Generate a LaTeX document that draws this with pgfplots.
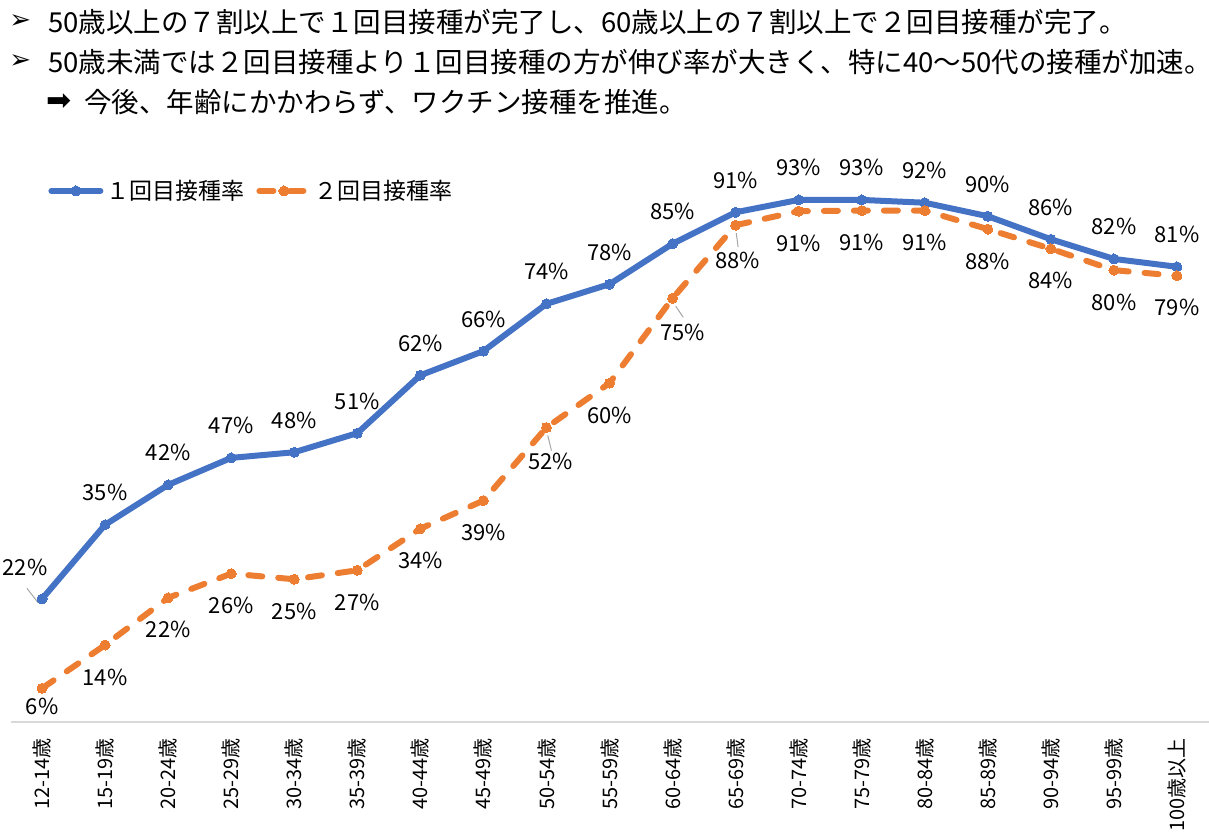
\documentclass[border=0pt]{standalone}
\usepackage{pgfplots}
\usepackage{pgfplotstable}
\pgfplotsset{compat=1.18}
\usepackage{fontspec}
\setmainfont{Noto Sans CJK JP}
\newfontfamily\sym{DejaVu Sans}
\definecolor{cblue}{HTML}{4472C4}
\definecolor{corange}{HTML}{ED7D31}
\definecolor{lgray}{HTML}{D9D9D9}

\pgfplotstableread{
x y
0 21.9
1 35.1
2 42.2
3 47.0
4 48.0
5 51.4
6 61.7
7 66.0
8 74.4
9 77.9
10 85.1
11 90.7
12 92.9
13 92.9
14 92.4
15 90.0
16 85.9
17 82.4
18 81.0
}\first

\pgfplotstableread{
x y
0 6.0
1 13.7
2 22.1
3 26.4
4 25.4
5 27.0
6 34.4
7 39.4
8 52.4
9 60.3
10 75.4
11 88.4
12 90.9
13 91.0
14 91.0
15 87.7
16 84.2
17 80.4
18 79.4
}\second

\begin{document}
\begin{tikzpicture}
\useasboundingbox (0,0) rectangle (604.5pt,-418.5pt);
% header
\node[anchor=west,inner sep=0pt,font=\sym\fontsize{13pt}{15pt}\selectfont] at (9*0.5pt,-22*0.5pt) {➢};
\node[anchor=west,inner sep=0pt,font=\fontsize{13.75pt}{16pt}\selectfont] at (48*0.5pt,-22*0.5pt) {50歳以上の７割以上で１回目接種が完了し、60歳以上の７割以上で２回目接種が完了。};
\node[anchor=west,inner sep=0pt,font=\sym\fontsize{13pt}{15pt}\selectfont] at (9*0.5pt,-62*0.5pt) {➢};
\node[anchor=west,inner sep=0pt,font=\fontsize{13.75pt}{16pt}\selectfont] at (48*0.5pt,-62*0.5pt) {50歳未満では２回目接種より１回目接種の方が伸び率が大きく、特に40～50代の接種が加速。};
\node[anchor=west,inner sep=0pt,font=\sym\fontsize{15pt}{17pt}\selectfont] at (46*0.5pt,-102*0.5pt) {➡};
\node[anchor=west,inner sep=0pt,font=\fontsize{13.75pt}{16pt}\selectfont] at (84*0.5pt,-102*0.5pt) {今後、年齢にかかわらず、ワクチン接種を推進。};

\begin{axis}[
  at={(10.5*0.5pt,-722*0.5pt)}, anchor=south west,
  scale only axis, width=599pt, height=281pt,
  xmin=-0.5, xmax=18.5, ymin=0, ymax=100,
  clip=false,
  axis y line=none,
  axis x line*=bottom,
  x axis line style={lgray, line width=0.8pt, -},
  xtick={0,...,18},
  xticklabels={12-14歳,15-19歳,20-24歳,25-29歳,30-34歳,35-39歳,40-44歳,45-49歳,50-54歳,55-59歳,60-64歳,65-69歳,70-74歳,75-79歳,80-84歳,85-89歳,90-94歳,95-99歳,100歳以上},
  xtick style={draw=none},
  major tick length=0pt,
  xticklabel style={rotate=90, anchor=east, inner sep=0pt, font=\fontsize{10pt}{12pt}\selectfont},
  xticklabel shift=8pt,
  /pgf/number format/assume math mode=true,
  legend style={at={(0.0313,0.945)}, anchor=west, draw=none, fill=none, inner sep=0pt,
    legend columns=2, font=\fontsize{11.5pt}{14pt}\selectfont,
    /tikz/every even column/.append style={column sep=6pt},
    nodes={inner sep=0pt}},
  legend image code/.code={\draw[mark repeat=2,mark phase=2,#1] plot coordinates {(0pt,0pt) (12.25pt,0pt) (24.5pt,0pt)};},
]
\addlegendimage{cblue, line width=3pt, line cap=round, mark=*, mark size=2.5pt, mark options={solid, line width=0pt}}
\addlegendentry{\hspace{1.5pt}１回目接種率}
\addlegendimage{corange, line width=3pt, line cap=round, dash pattern=on 7pt off 8pt, mark=*, mark size=2.5pt, mark options={solid, line width=0pt}}
\addlegendentry{\hspace{1.5pt}２回目接種率}
\addplot[forget plot, cblue, line width=3pt, line cap=round, line join=round, mark=*, mark size=2.5pt, mark options={solid, line width=0pt},
  visualization depends on={x \as \xx},
  nodes near coords={\pgfmathprintnumber[fixed,precision=0]{\pgfplotspointmeta}\%},
  every node near coord/.append style={anchor=center, inner sep=0pt, text=black, font=\fontsize{11pt}{13pt}\selectfont,
    xshift={(abs(\xx)<0.1)*(-8.5pt)}, yshift=16pt}]
  table[x=x,y=y] {\first};
\addplot[forget plot, corange, line width=3pt, line cap=round, line join=round, dash pattern=on 7pt off 8pt, mark=*, mark size=2.5pt, mark options={solid, line width=0pt},
  visualization depends on={x \as \xx},
  nodes near coords={\pgfmathprintnumber[fixed,precision=0]{\pgfplotspointmeta}\%},
  every node near coord/.append style={anchor=center, inner sep=0pt, text=black, font=\fontsize{11pt}{13pt}\selectfont,
    xshift={(abs(\xx-8)<0.1)*2pt+(abs(\xx-10)<0.1)*5pt+(abs(\xx-11)<0.1)*1pt},
    yshift={-16pt+(abs(\xx)<0.1)*7pt-(abs(\xx-8)<0.1)*1pt-(abs(\xx-10)<0.1)*1pt-(abs(\xx-11)<0.1)*1.5pt}}]
  table[x=x,y=y] {\second};
\draw[gray!70, line width=0.5pt] (axis cs:-0.06,21.2) -- (axis cs:-0.24,23.8);
\draw[gray!70, line width=0.5pt] (axis cs:8.02,51) -- (axis cs:8.08,48.3);
\draw[gray!70, line width=0.5pt] (axis cs:10.05,74) -- (axis cs:10.17,72);
\draw[gray!70, line width=0.5pt] (axis cs:11.01,87) -- (axis cs:11.04,84.5);
\end{axis}
\end{tikzpicture}
\end{document}
